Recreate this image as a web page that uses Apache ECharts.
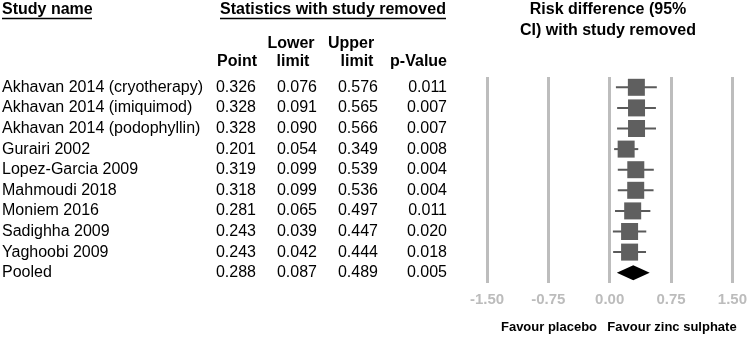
<!DOCTYPE html>
<html>
<head>
<meta charset="utf-8">
<script src="https://cdn.jsdelivr.net/npm/echarts@6/dist/echarts.min.js"></script>
<style>
  html, body { margin: 0; padding: 0; background: #fff; }
  #chart { width: 750px; height: 338px; }
</style>
</head>
<body>
<div id="chart"></div>
<script>
// study rows (last one is the pooled estimate)
var studies = ['Akhavan 2014 (cryotherapy)', 'Akhavan 2014 (imiquimod)', 'Akhavan 2014 (podophyllin)',
  'Gurairi 2002', 'Lopez-Garcia 2009', 'Mahmoudi 2018', 'Moniem 2016', 'Sadighha 2009',
  'Yaghoobi 2009', 'Pooled']
var pointVals = [0.326, 0.328, 0.328, 0.201, 0.319, 0.318, 0.281, 0.243, 0.243, 0.288]
var lowerVals = [0.076, 0.091, 0.090, 0.054, 0.099, 0.099, 0.065, 0.039, 0.042, 0.087]
var upperVals = [0.576, 0.565, 0.566, 0.349, 0.539, 0.536, 0.497, 0.447, 0.444, 0.489]
var pVals = [0.011, 0.007, 0.007, 0.008, 0.004, 0.004, 0.011, 0.020, 0.018, 0.005]
var axisMin = -1.5
var axisMax = 1.5
var axisStep = 0.75

var FONT = 'Liberation Sans, Arial, sans-serif'
var pooledIdx = studies.length - 1

var rows = studies.map(function (s, i) {
  return [i, pointVals[i], lowerVals[i], upperVals[i], pVals[i]]
})

// forest marks: whisker + square, diamond for pooled
function renderForest (params, api) {
  var row = api.value(0)
  var pt = api.coord([api.value(1), row])
  var lo = api.coord([api.value(2), row])
  var hi = api.coord([api.value(3), row])
  if (row === pooledIdx) {
    var h = 7.5
    return {
      type: 'polygon',
      shape: { points: [[lo[0], pt[1]], [pt[0], pt[1] - h], [hi[0], pt[1]], [pt[0], pt[1] + h]] },
      style: { fill: '#000' }
    }
  }
  var sz = 17
  return {
    type: 'group',
    children: [{
      type: 'line',
      shape: { x1: lo[0], y1: pt[1], x2: hi[0], y2: pt[1] },
      style: { stroke: '#5a5a5a', lineWidth: 2 }
    }, {
      type: 'rect',
      shape: { x: pt[0] - sz / 2, y: pt[1] - sz / 2, width: sz, height: sz },
      style: { fill: '#5f5f5f' }
    }]
  }
}

// table columns: right edge x for numbers
var colRight = [256, 317, 378, 447]
function renderTable (params, api) {
  var row = api.value(0)
  var y = api.coord([0, row])[1]
  var txt = function (x, s, align) {
    return {
      type: 'text',
      style: { x: x, y: y, text: s, textAlign: align, textVerticalAlign: 'middle',
        font: '16px ' + FONT, fill: '#000' }
    }
  }
  return {
    type: 'group',
    children: [
      txt(2, studies[row], 'left'),
      txt(colRight[0], api.value(1).toFixed(3), 'right'),
      txt(colRight[1], api.value(2).toFixed(3), 'right'),
      txt(colRight[2], api.value(3).toFixed(3), 'right'),
      txt(colRight[3], api.value(4).toFixed(3), 'right')
    ]
  }
}

function headText (x, y, s, align, size) {
  return {
    type: 'text',
    x: x, y: y,
    style: { text: s, textAlign: align, textVerticalAlign: 'middle',
      font: 'bold ' + (size || 16) + 'px ' + FONT, fill: '#000' }
  }
}

var chart = echarts.init(document.getElementById('chart'))
var option = {
  animation: false,
  backgroundColor: '#fff',
  grid: { left: 487, right: 17, top: 77, height: 206 },
  xAxis: {
    type: 'value',
    min: axisMin,
    max: axisMax,
    interval: axisStep,
    axisLine: { show: false },
    axisTick: { show: false },
    splitLine: { show: true, lineStyle: { color: '#bdbdbd', width: 3 } },
    axisLabel: {
      margin: 9,
      color: '#bcbcbc',
      fontWeight: 'bold',
      fontSize: 15,
      fontFamily: FONT,
      formatter: function (v) { return v.toFixed(2) }
    }
  },
  yAxis: {
    type: 'category',
    inverse: true,
    data: studies,
    show: false
  },
  graphic: [
    headText(2, 10, 'Study name', 'left'),
    { type: 'line', shape: { x1: 2, y1: 18.5, x2: 92, y2: 18.5 }, style: { stroke: '#000', lineWidth: 1.5 } },
    headText(333, 10, 'Statistics with study removed', 'center'),
    { type: 'line', shape: { x1: 220, y1: 18.5, x2: 446, y2: 18.5 }, style: { stroke: '#000', lineWidth: 1.5 } },
    headText(608, 10, 'Risk difference (95%', 'center'),
    headText(608, 31, 'CI) with study removed', 'center'),
    headText(291, 44, 'Lower', 'center'),
    headText(351, 44, 'Upper', 'center'),
    headText(257, 62, 'Point', 'right'),
    headText(293, 62, 'limit', 'center'),
    headText(357, 62, 'limit', 'center'),
    headText(447, 62, 'p-Value', 'right'),
    headText(549, 327, 'Favour placebo', 'center', 13),
    headText(672, 327, 'Favour zinc sulphate', 'center', 13)
  ],
  series: [{
    type: 'custom',
    renderItem: renderForest,
    data: rows,
    encode: { x: [1, 2, 3], y: 0 },
    z: 5
  }, {
    type: 'custom',
    renderItem: renderTable,
    data: rows,
    encode: { y: 0 },
    clip: false,
    silent: true
  }]
}
chart.setOption(option)
</script>
</body>
</html>
